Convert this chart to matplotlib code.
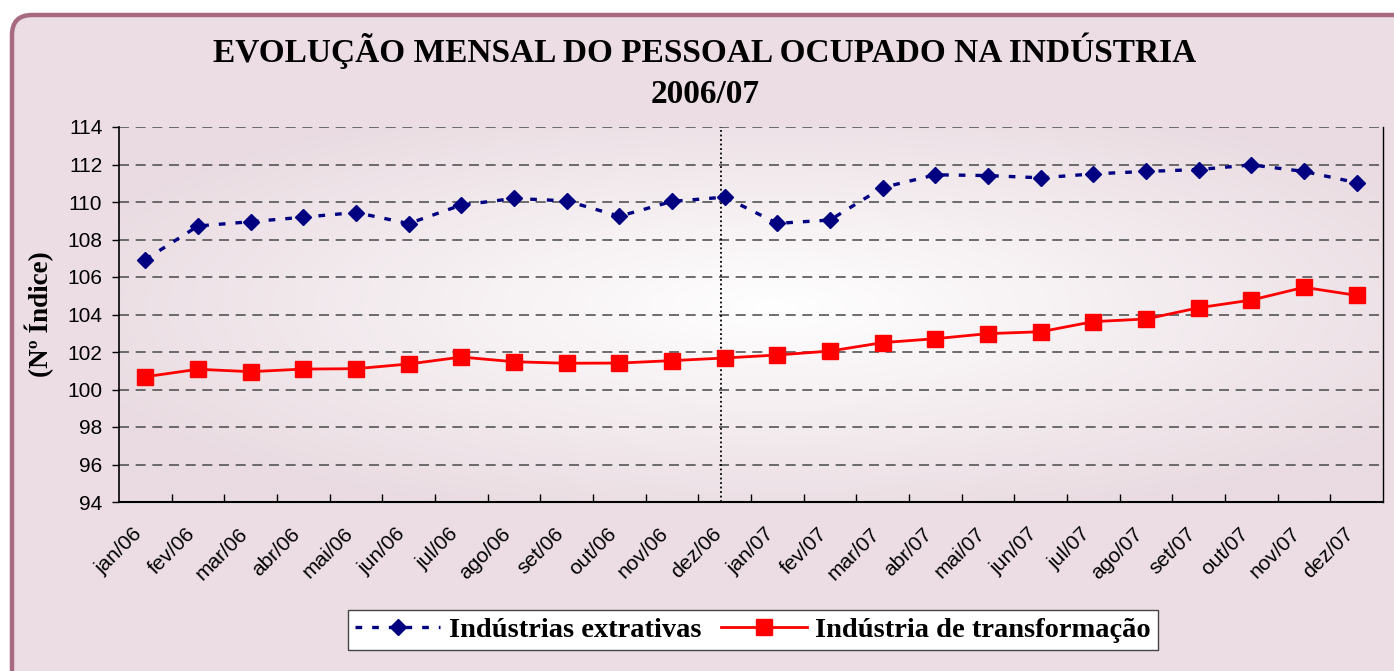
import numpy as np
import matplotlib
matplotlib.use('Agg')
import matplotlib.pyplot as plt
from matplotlib.patches import FancyBboxPatch
from matplotlib.colors import LinearSegmentedColormap
from matplotlib.ticker import MultipleLocator, FixedLocator
import matplotlib.transforms as mtransforms


MESES = ['jan/06', 'fev/06', 'mar/06', 'abr/06', 'mai/06', 'jun/06',
         'jul/06', 'ago/06', 'set/06', 'out/06', 'nov/06', 'dez/06',
         'jan/07', 'fev/07', 'mar/07', 'abr/07', 'mai/07', 'jun/07',
         'jul/07', 'ago/07', 'set/07', 'out/07', 'nov/07', 'dez/07']

EXTRATIVAS = [106.93, 108.72, 108.95, 109.19, 109.44, 108.85,
              109.84, 110.19, 110.06, 109.24, 110.03, 110.26,
              108.86, 109.04, 110.77, 111.45, 111.41, 111.29,
              111.50, 111.63, 111.73, 111.98, 111.63, 111.03]

TRANSFORMACAO = [100.68, 101.08, 100.95, 101.09, 101.11, 101.36,
                 101.73, 101.48, 101.40, 101.41, 101.54, 101.68,
                 101.84, 102.05, 102.50, 102.71, 102.98, 103.08,
                 103.62, 103.76, 104.36, 104.77, 105.45, 105.02]

TITULO = 'EVOLUÇÃO MENSAL DO PESSOAL OCUPADO NA INDÚSTRIA\n2006/07'

SERIF = ['Liberation Serif', 'DejaVu Serif']
SANS = ['Liberation Sans', 'DejaVu Sans']

ROSA = '#ebdde3'
ROSA_BORDA = '#e9dbe1'
MALVA = '#a86a80'


# Fundo da figura com moldura arredondada
fig = plt.figure(figsize=(13.94, 6.71), dpi=100)
fig.patch.set_facecolor('white')

moldura = FancyBboxPatch((12, -40), 1430, 696,
                         boxstyle='round,pad=0,rounding_size=20',
                         transform=mtransforms.IdentityTransform(),
                         facecolor=ROSA, edgecolor=MALVA, linewidth=3.2, zorder=-10)
fig.add_artist(moldura)

# Area do grafico
ax = fig.add_axes([119 / 1394, 1 - 502 / 671, 1264 / 1394, 375 / 671])
ax.set_facecolor('none')

# Gradiente radial (branco no centro)
gx, gy = np.meshgrid(np.linspace(0, 1, 400), np.linspace(0, 1, 200))
r = np.sqrt(((gx - 0.52) / 0.6) ** 2 + ((gy - 0.48) / 0.6) ** 2)
r = np.clip(r, 0, 1)
cmap_fundo = LinearSegmentedColormap.from_list('fundo', ['#ffffff', '#f4edf0', ROSA_BORDA])
ax.imshow(r, cmap=cmap_fundo, vmin=0, vmax=1, extent=(0, 1, 0, 1),
          transform=ax.transAxes, aspect='auto', interpolation='bilinear', zorder=0)

x = np.arange(len(MESES)) + 0.5

ax.plot(x, EXTRATIVAS, color='#000080', linestyle=(0, (2, 3)), linewidth=2.4,
        marker='D', markersize=8, markeredgecolor='#000080', markerfacecolor='#000080',
        label='Indústrias extrativas', zorder=4)
ax.plot(x, TRANSFORMACAO, color='#ff0000', linestyle='-', linewidth=2.0,
        marker='s', markersize=11, markeredgecolor='#ff0000', markerfacecolor='#ff0000',
        label='Indústria de transformação', zorder=4)

# Linha pontilhada de separacao entre os anos
ax.axvline(11.43, color='black', linestyle=(0, (1, 1.5)), linewidth=1.3, zorder=3)

ax.set_xlim(0, len(MESES))
ax.set_ylim(94, 114)
ax.yaxis.set_major_locator(MultipleLocator(2))
ax.yaxis.grid(True, linestyle=(0, (6, 4)), color='#555555', linewidth=1.2)
ax.set_axisbelow(True)

ax.set_xticks(x)
ax.set_xticklabels(MESES)
ax.xaxis.set_minor_locator(FixedLocator(np.arange(1, len(MESES))))
ax.tick_params(axis='x', which='major', length=0, pad=16)
ax.tick_params(axis='x', which='minor', direction='in', length=6, width=1)
ax.tick_params(axis='y', direction='out', length=5, width=1, pad=7)

for lbl in ax.get_xticklabels():
    lbl.set_rotation(45)
    lbl.set_ha('right')
    lbl.set_va('top')
    lbl.set_rotation_mode('anchor')
    lbl.set_family(SANS)
    lbl.set_fontsize(15)
    lbl.set_transform(lbl.get_transform() + mtransforms.ScaledTranslation(-13 / 100, 0, fig.dpi_scale_trans))
for lbl in ax.get_yticklabels():
    lbl.set_family(SANS)
    lbl.set_fontsize(15)

ax.spines['top'].set_visible(False)
for s in ['left', 'bottom', 'right']:
    ax.spines[s].set_color('black')
ax.spines['left'].set_linewidth(1.2)
ax.spines['bottom'].set_linewidth(1.5)
ax.spines['right'].set_linewidth(1.0)

ax.set_ylabel('(Nº Índice)', family=SERIF, fontweight='bold', fontsize=19.5)
ax.yaxis.label.set_va('center')
ax.yaxis.set_label_coords((39 - 119) / 1264, 0.5)

fig.text(705 / 1394, 1 - 71 / 671, TITULO, family=SERIF, fontweight='bold', fontsize=24,
         ha='center', va='center', linespacing=1.42)

leg = fig.legend(loc='center', bbox_to_anchor=(753 / 1394, 1 - 630 / 671), ncol=2,
                 prop={'family': SERIF, 'weight': 'bold', 'size': 20.5},
                 handlelength=3.0, handletextpad=0.3, columnspacing=0.7,
                 numpoints=1, fancybox=False, framealpha=1, borderpad=0.25)
leg.get_frame().set_edgecolor('#444444')
leg.get_frame().set_linewidth(1.0)
leg.get_frame().set_facecolor('white')

fig.savefig('out.png', dpi=100)
